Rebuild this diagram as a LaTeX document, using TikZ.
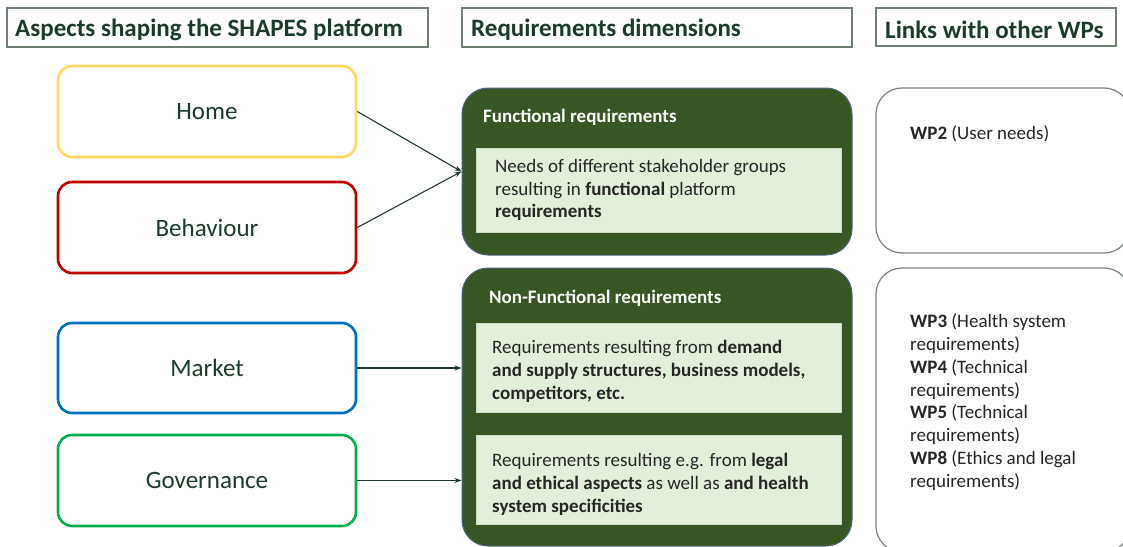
\documentclass[tikz,border=0pt]{standalone}
\usepackage{fontspec}
\setmainfont{Carlito}
\usetikzlibrary{arrows.meta}
\definecolor{headtxt}{HTML}{1B3B2B}
\definecolor{headline}{HTML}{6F7F72}
\definecolor{homec}{HTML}{FFD966}
\definecolor{behavc}{HTML}{C00000}
\definecolor{marketc}{HTML}{0070C0}
\definecolor{govc}{HTML}{00B050}
\definecolor{darkgreen}{HTML}{375623}
\definecolor{lightgreen}{HTML}{E2EFDA}
\definecolor{bodytxt}{HTML}{262626}
\definecolor{wpline}{HTML}{7A867C}
\definecolor{arrowc}{HTML}{1E3A30}
\tikzset{
  header/.style={draw=headline, line width=1.2pt, rectangle, inner sep=0pt},
  headtext/.style={anchor=west, inner sep=0pt, text=headtxt,
    font=\fontsize{25}{28}\selectfont\bfseries},
  aspect/.style={rectangle, rounded corners=14pt, line width=2.6pt, fill=white,
    minimum width=298pt, inner sep=0pt,
    font=\fontsize{25}{28}\selectfont, text=headtxt},
  outerbox/.style={rectangle, rounded corners=26pt, fill=darkgreen,
    draw=darkgreen!70!blue!80!white, line width=1pt, minimum width=390pt, inner sep=0pt},
  innerbox/.style={rectangle, fill=lightgreen, draw=lightgreen!80!gray, line width=0.6pt,
    minimum width=365pt, inner sep=0pt},
  boxtitle/.style={anchor=west, inner sep=0pt, text=white,
    font=\fontsize{19}{22}\selectfont\bfseries},
  bodytext/.style={anchor=west, align=left, inner sep=0pt, text=bodytxt,
    font=\fontsize{19}{22.8}\selectfont},
  wpbox/.style={rectangle, rounded corners=26pt, draw=wpline, line width=1.2pt,
    fill=white, minimum width=254pt, inner sep=0pt},
  link/.style={draw=arrowc, line width=1.1pt, -{Stealth[length=7pt,width=5pt]}}
}
\begin{document}
\begin{tikzpicture}[x=1pt,y=-1pt]
\useasboundingbox (0,0) rectangle (1123,546);
\clip (0,0) rectangle (1123,546);

% column headings
\node[header, minimum width=421pt, minimum height=39pt] (h1) at (217.5,27.5) {};
\node[headtext] (h1t) at (15,29.5) {Aspects shaping the SHAPES platform};
\node[header, minimum width=390pt, minimum height=39pt] (h2) at (657,27.5) {};
\node[headtext] (h2t) at (471,29.5) {Requirements dimensions};
\node[header, minimum width=240pt, minimum height=38pt] (h3) at (996,27) {};
\node[headtext] (h3t) at (885,29.5) {Links with other WPs};

% aspects
\node[aspect, draw=homec, minimum height=91pt] (home) at (207,111.5) {Home};
\node[aspect, draw=behavc, minimum height=91pt] (behav) at (207,227.5) {Behaviour};
\node[aspect, draw=marketc, minimum height=90pt] (market) at (207,368) {Market};
\node[aspect, draw=govc, minimum height=91pt] (gov) at (207,480.5) {Governance};

% functional requirements
\node[outerbox, minimum height=167pt] (func) at (657,171.5) {};
\node[boxtitle] (functitle) at (483,117.5) {Functional requirements};
\node[innerbox, minimum height=84pt] (funcin) at (658.5,190) {};
\node[bodytext] (functext) at (495,190) {Needs of different stakeholder groups\\resulting in \textbf{functional} platform\\\textbf{requirements}};

% non-functional requirements
\node[outerbox, minimum height=278pt] (nonfunc) at (657,407) {};
\node[boxtitle] (nftitle) at (489,298.5) {Non-Functional requirements};
\node[innerbox, minimum height=89pt] (nfin1) at (658.5,367.5) {};
\node[bodytext] (nftext1) at (492,371.5) {Requirements resulting from \textbf{demand}\\\textbf{and supply structures, business models,}\\\textbf{competitors, etc.}};
\node[innerbox, minimum height=89pt] (nfin2) at (658.5,479.5) {};
\node[bodytext] (nftext2) at (492,484.5) {Requirements resulting e.g. from \textbf{legal}\\\textbf{and ethical aspects} as well as \textbf{and health}\\\textbf{system specificities}};

% links with other work packages
\node[wpbox, minimum height=165pt] (wp1) at (1003,170.5) {};
\node[anchor=west, inner sep=0pt, text=bodytxt, font=\fontsize{19}{22.8}\selectfont] (wp1t) at (910,133.5) {\textbf{WP2} (User needs)};
\node[wpbox, minimum height=284pt] (wp2) at (1003,410) {};
\node[bodytext] (wp2t) at (910,402) {\textbf{WP3} (Health system\\requirements)\\\textbf{WP4} (Technical\\requirements)\\\textbf{WP5} (Technical\\requirements)\\\textbf{WP8} (Ethics and legal\\requirements)};

% connectors
\draw[link] (home.east) -- (func.west);
\draw[link] (behav.east) -- (func.west);
\draw[link] (market.east) -- (market.east -| nonfunc.west);
\draw[link] (gov.east) -- (gov.east -| nonfunc.west);
\end{tikzpicture}
\end{document}
